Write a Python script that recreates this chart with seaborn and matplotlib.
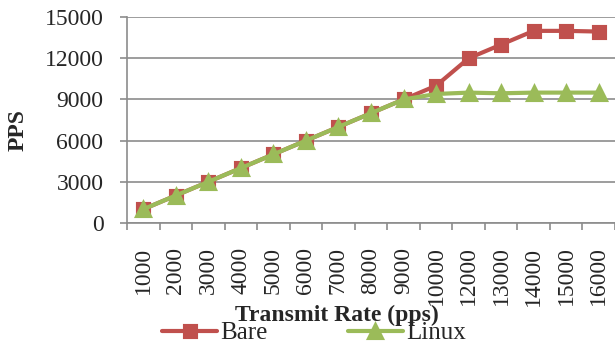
import numpy as np
import pandas as pd
import matplotlib
matplotlib.use("Agg")
import matplotlib.pyplot as plt
import seaborn as sns

# Data
rates = ["1000", "2000", "3000", "4000", "5000", "6000", "7000", "8000",
         "9000", "10000", "12000", "13000", "14000", "15000", "16000"]
bare = [1000, 2000, 3000, 4000, 5000, 6000, 7000, 8000,
        9000, 10000, 12000, 13000, 14000, 14000, 13950]
linux = [1000, 2000, 3000, 4000, 5000, 6000, 7000, 8000,
         9000, 9400, 9500, 9450, 9500, 9500, 9500]
series_names = ["Bare", "Linux"]
yticks = [0, 3000, 6000, 9000, 12000, 15000]

df = pd.DataFrame({
    "rate": rates * 2,
    "pps": bare + linux,
    "os": [series_names[0]] * len(rates) + [series_names[1]] * len(rates),
})

sns.set_theme(style="white")
plt.rcParams["font.family"] = ["Liberation Serif", "DejaVu Serif"]

fig = plt.figure(figsize=(6.15, 3.43), dpi=100)
ax = fig.add_axes([127 / 615, 0.35, 488 / 615, 0.60])

grid_col = "#8c8c8c"
ax.set_axisbelow(True)
ax.yaxis.grid(True, color=grid_col, linewidth=1.2)

sns.pointplot(
    data=df, x="rate", y="pps", hue="os", order=rates,
    hue_order=series_names, palette=["#C0504D", "#9BBB59"],
    markers=["s", "^"], linestyles=["-", "-"], markersize=8,
    linewidth=3, errorbar=None, ax=ax, legend=False,
)
# make the triangle a bit larger than the square
lines = [l for l in ax.get_lines() if len(l.get_xdata()) == len(rates)]
if len(lines) >= 2:
    lines[0].set_markersize(8)
    lines[1].set_markersize(10.5)

ax.set_xlim(-0.5, len(rates) - 0.5)
ax.set_ylim(0, 15000)
ax.set_yticks(yticks)
ax.set_yticklabels([str(v) for v in yticks], fontsize=17)

ax.set_xticks(range(len(rates)))
ax.set_xticklabels(rates, rotation=90, fontsize=17, va="top")
ax.set_xticks(np.arange(-0.5, len(rates), 1.0), minor=True)
ax.tick_params(axis="x", which="major", length=0, pad=17)
ax.tick_params(axis="x", which="minor", length=5, width=1.2, color=grid_col, bottom=True)
ax.tick_params(axis="y", which="major", length=5, width=1.2, color=grid_col, left=True, pad=12)

for side in ["top", "right"]:
    ax.spines[side].set_visible(False)
for side in ["left", "bottom"]:
    ax.spines[side].set_color(grid_col)
    ax.spines[side].set_linewidth(1.2)

ax.set_xlabel("")
ax.set_ylabel("")
fig.text(18 / 615, 1 - 130 / 343, "PPS", rotation=90, ha="center", va="center",
         fontsize=17, fontweight="bold")
fig.text(337 / 615, 1 - 315 / 343, "Transmit Rate (pps)", ha="center", va="center",
         fontsize=17, fontweight="bold")

handles = lines[:2]
fig.legend(handles, series_names, loc="center", bbox_to_anchor=(314 / 615, 1 - 333 / 343),
           ncol=2, frameon=False, fontsize=18, handlelength=2.2, handletextpad=0.12,
           columnspacing=3.2, borderpad=0, borderaxespad=0)

fig.savefig("out.png", dpi=100)
